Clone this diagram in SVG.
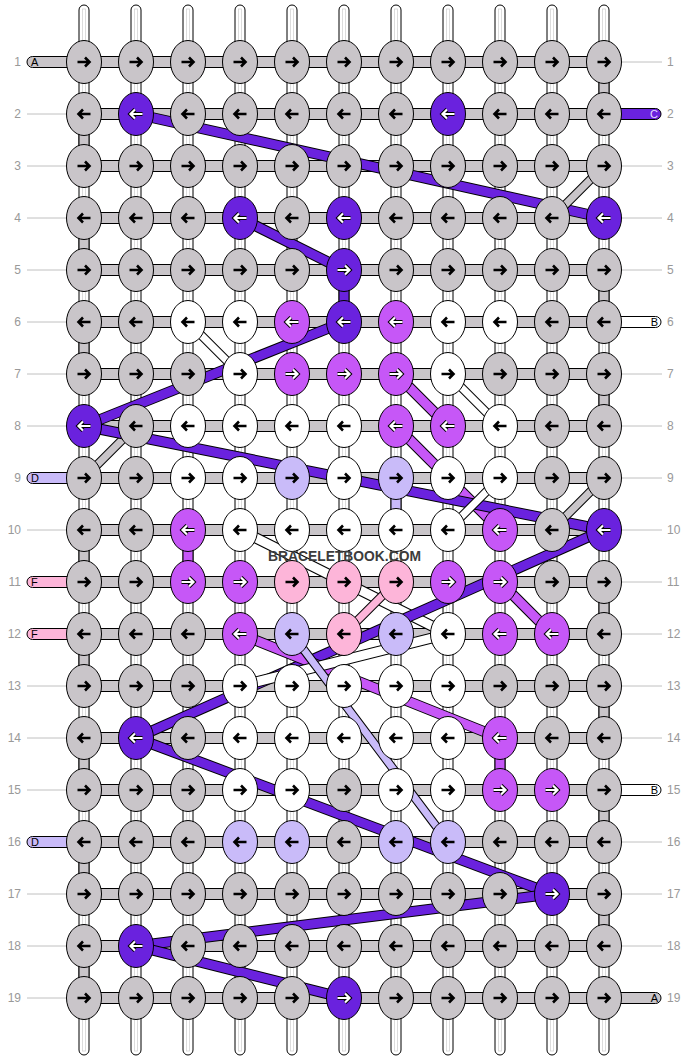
<svg xmlns="http://www.w3.org/2000/svg" xmlns:xlink="http://www.w3.org/1999/xlink" width="688" height="1060" viewBox="0 0 688 1060">
<style>
.g{fill:#c9c5c9}.P{fill:#6a22de}.m{fill:#c657f7}.k{fill:#fdb5d9}.l{fill:#c9bbf9}.w{fill:#fff}
ellipse{stroke:#000;stroke-width:1}
.strip{fill:#fff;stroke:#000;stroke-width:1}
.inner{fill:none;stroke:#d4d4d4;stroke-width:0.8}
.bar{stroke:#000;stroke-width:1}
.ln{stroke:#c0c0c0;stroke-width:1}
.num{font-family:"Liberation Sans",Arial,sans-serif;font-size:12px;fill:#999}
.lab{font-family:"Liberation Sans",Arial,sans-serif;font-size:11px}
.so{stroke:#000}
.ar{fill:none;stroke:#000;stroke-width:2.6}
.aw{fill:none;stroke:#fff;stroke-width:2.2}
.ao{fill:none;stroke:#000;stroke-width:4.2}
</style>
<defs>
<path id="R" d="M-6.5,0H5.5M1,-4.5L5.5,0L1,4.5"/>
<path id="L" d="M6.5,0H-5.5M-1,-4.5L-5.5,0L-1,4.5"/>
<g id="gR"><ellipse class="g" rx="17.5" ry="21.5"/><use href="#R" class="ar"/></g>
<g id="gL"><ellipse class="g" rx="17.5" ry="21.5"/><use href="#L" class="ar"/></g>
<g id="wR"><ellipse class="w" rx="17.5" ry="21.5"/><use href="#R" class="ar"/></g>
<g id="wL"><ellipse class="w" rx="17.5" ry="21.5"/><use href="#L" class="ar"/></g>
<g id="kR"><ellipse class="k" rx="17.5" ry="21.5"/><use href="#R" class="ar"/></g>
<g id="kL"><ellipse class="k" rx="17.5" ry="21.5"/><use href="#L" class="ar"/></g>
<g id="lR"><ellipse class="l" rx="17.5" ry="21.5"/><use href="#R" class="ar"/></g>
<g id="lL"><ellipse class="l" rx="17.5" ry="21.5"/><use href="#L" class="ar"/></g>
<g id="PR"><ellipse class="P" rx="17.5" ry="21.5"/><use href="#R" class="ao"/><use href="#R" class="aw"/></g>
<g id="PL"><ellipse class="P" rx="17.5" ry="21.5"/><use href="#L" class="ao"/><use href="#L" class="aw"/></g>
<g id="mR"><ellipse class="m" rx="17.5" ry="21.5"/><use href="#R" class="ao"/><use href="#R" class="aw"/></g>
<g id="mL"><ellipse class="m" rx="17.5" ry="21.5"/><use href="#L" class="ao"/><use href="#L" class="aw"/></g>
</defs>
<rect width="688" height="1060" fill="#fff"/>

<g id="strings">
<rect class="strip" x="79" y="5" width="10" height="1050" rx="5"/><rect class="inner" x="82.5" y="9" width="3" height="1042"/>
<rect class="strip" x="131" y="5" width="10" height="1050" rx="5"/><rect class="inner" x="134.5" y="9" width="3" height="1042"/>
<rect class="strip" x="183" y="5" width="10" height="1050" rx="5"/><rect class="inner" x="186.5" y="9" width="3" height="1042"/>
<rect class="strip" x="235" y="5" width="10" height="1050" rx="5"/><rect class="inner" x="238.5" y="9" width="3" height="1042"/>
<rect class="strip" x="287" y="5" width="10" height="1050" rx="5"/><rect class="inner" x="290.5" y="9" width="3" height="1042"/>
<rect class="strip" x="339" y="5" width="10" height="1050" rx="5"/><rect class="inner" x="342.5" y="9" width="3" height="1042"/>
<rect class="strip" x="391" y="5" width="10" height="1050" rx="5"/><rect class="inner" x="394.5" y="9" width="3" height="1042"/>
<rect class="strip" x="443" y="5" width="10" height="1050" rx="5"/><rect class="inner" x="446.5" y="9" width="3" height="1042"/>
<rect class="strip" x="495" y="5" width="10" height="1050" rx="5"/><rect class="inner" x="498.5" y="9" width="3" height="1042"/>
<rect class="strip" x="547" y="5" width="10" height="1050" rx="5"/><rect class="inner" x="550.5" y="9" width="3" height="1042"/>
<rect class="strip" x="599" y="5" width="10" height="1050" rx="5"/><rect class="inner" x="602.5" y="9" width="3" height="1042"/>
<rect class="g bar" x="599" y="80" width="10" height="16"/>
<rect class="g bar" x="599" y="288" width="10" height="16"/>
<rect class="g bar" x="599" y="392" width="10" height="16"/>
<rect class="g bar" x="599" y="600" width="10" height="16"/>
<rect class="g bar" x="599" y="704" width="10" height="16"/>
<rect class="g bar" x="599" y="808" width="10" height="16"/>
<rect class="g bar" x="599" y="912" width="10" height="16"/>
<rect class="g bar" x="79" y="132" width="10" height="16"/>
<rect class="g bar" x="79" y="236" width="10" height="16"/>
<rect class="g bar" x="79" y="340" width="10" height="16"/>
<rect class="g bar" x="79" y="548" width="10" height="16"/>
<rect class="g bar" x="79" y="652" width="10" height="16"/>
<rect class="g bar" x="79" y="756" width="10" height="16"/>
<rect class="g bar" x="79" y="860" width="10" height="16"/>
<rect class="g bar" x="79" y="964" width="10" height="16"/>
<rect class="P bar" x="339" y="288" width="10" height="16"/>
<rect class="l bar" x="391" y="496" width="10" height="16"/>
<rect class="m bar" x="183" y="548" width="10" height="16"/>
<rect class="m bar" x="495" y="756" width="10" height="16"/>
<rect class="g bar" x="84" y="56.5" width="520" height="11"/>
<rect class="g bar" x="84" y="108.5" width="520" height="11"/>
<rect class="g bar" x="84" y="160.5" width="520" height="11"/>
<rect class="g bar" x="84" y="212.5" width="520" height="11"/>
<rect class="g bar" x="84" y="264.5" width="520" height="11"/>
<rect class="g bar" x="84" y="316.5" width="520" height="11"/>
<rect class="g bar" x="84" y="368.5" width="520" height="11"/>
<rect class="g bar" x="84" y="420.5" width="520" height="11"/>
<rect class="g bar" x="84" y="472.5" width="520" height="11"/>
<rect class="g bar" x="84" y="524.5" width="520" height="11"/>
<rect class="g bar" x="84" y="576.5" width="520" height="11"/>
<rect class="g bar" x="84" y="628.5" width="520" height="11"/>
<rect class="g bar" x="84" y="680.5" width="520" height="11"/>
<rect class="g bar" x="84" y="732.5" width="520" height="11"/>
<rect class="g bar" x="84" y="784.5" width="520" height="11"/>
<rect class="g bar" x="84" y="836.5" width="520" height="11"/>
<rect class="g bar" x="84" y="888.5" width="520" height="11"/>
<rect class="g bar" x="84" y="940.5" width="520" height="11"/>
<rect class="g bar" x="84" y="992.5" width="520" height="11"/>
<rect class="g bar" x="27" y="56.5" width="60" height="11" rx="5.5"/>
<rect class="l bar" x="27" y="472.5" width="60" height="11" rx="5.5"/>
<rect class="k bar" x="27" y="576.5" width="60" height="11" rx="5.5"/>
<rect class="k bar" x="27" y="628.5" width="60" height="11" rx="5.5"/>
<rect class="l bar" x="27" y="836.5" width="60" height="11" rx="5.5"/>
<rect class="P bar" x="600" y="108.5" width="61" height="11" rx="5.5"/>
<rect class="w bar" x="600" y="316.5" width="61" height="11" rx="5.5"/>
<rect class="w bar" x="600" y="784.5" width="61" height="11" rx="5.5"/>
<rect class="g bar" x="600" y="992.5" width="61" height="11" rx="5.5"/>
</g>

<g id="connectors">
<line class="so" stroke-width="11" x1="136" y1="114" x2="604" y2="218"/><line stroke="#6a22de" stroke-width="9" x1="136" y1="114" x2="604" y2="218"/>
<line class="so" stroke-width="9" x1="604" y1="166" x2="552" y2="218"/><line stroke="#c9c5c9" stroke-width="7" x1="604" y1="166" x2="552" y2="218"/>
<line class="so" stroke-width="11" x1="240" y1="218" x2="344" y2="270"/><line stroke="#6a22de" stroke-width="9" x1="240" y1="218" x2="344" y2="270"/>
<line class="so" stroke-width="11" x1="344" y1="322" x2="84" y2="426"/><line stroke="#6a22de" stroke-width="9" x1="344" y1="322" x2="84" y2="426"/>
<line class="so" stroke-width="9" x1="188" y1="322" x2="240" y2="374"/><line stroke="#fff" stroke-width="7" x1="188" y1="322" x2="240" y2="374"/>
<line class="so" stroke-width="11" x1="396" y1="374" x2="448" y2="426"/><line stroke="#c657f7" stroke-width="9" x1="396" y1="374" x2="448" y2="426"/>
<line class="so" stroke-width="9" x1="448" y1="374" x2="500" y2="426"/><line stroke="#fff" stroke-width="7" x1="448" y1="374" x2="500" y2="426"/>
<line class="so" stroke-width="11" x1="396" y1="426" x2="500" y2="530"/><line stroke="#c657f7" stroke-width="9" x1="396" y1="426" x2="500" y2="530"/>
<line class="so" stroke-width="9" x1="136" y1="426" x2="84" y2="478"/><line stroke="#c9c5c9" stroke-width="7" x1="136" y1="426" x2="84" y2="478"/>
<line class="so" stroke-width="11" x1="84" y1="426" x2="604" y2="530"/><line stroke="#6a22de" stroke-width="9" x1="84" y1="426" x2="604" y2="530"/>
<line class="so" stroke-width="9" x1="604" y1="478" x2="552" y2="530"/><line stroke="#c9c5c9" stroke-width="7" x1="604" y1="478" x2="552" y2="530"/>
<line class="so" stroke-width="9" x1="500" y1="478" x2="448" y2="530"/><line stroke="#fff" stroke-width="7" x1="500" y1="478" x2="448" y2="530"/>
<line class="so" stroke-width="11" x1="240" y1="530" x2="448" y2="634"/><line stroke="#fff" stroke-width="9" x1="240" y1="530" x2="448" y2="634"/>
<line class="so" stroke-width="11" x1="500" y1="582" x2="552" y2="634"/><line stroke="#c657f7" stroke-width="9" x1="500" y1="582" x2="552" y2="634"/>
<line class="so" stroke-width="9" x1="396" y1="582" x2="344" y2="634"/><line stroke="#fdb5d9" stroke-width="7" x1="396" y1="582" x2="344" y2="634"/>
<line class="so" stroke-width="11" x1="604" y1="530" x2="136" y2="738"/><line stroke="#6a22de" stroke-width="9" x1="604" y1="530" x2="136" y2="738"/>
<line class="so" stroke-width="11" x1="240" y1="634" x2="500" y2="738"/><line stroke="#c657f7" stroke-width="9" x1="240" y1="634" x2="500" y2="738"/>
<line class="so" stroke-width="11" x1="240" y1="686" x2="448" y2="634"/><line stroke="#fff" stroke-width="9" x1="240" y1="686" x2="448" y2="634"/>
<line class="so" stroke-width="9" x1="292" y1="634" x2="448" y2="842"/><line stroke="#c9bbf9" stroke-width="7" x1="292" y1="634" x2="448" y2="842"/>
<line class="so" stroke-width="11" x1="136" y1="738" x2="552" y2="894"/><line stroke="#6a22de" stroke-width="9" x1="136" y1="738" x2="552" y2="894"/>
<line class="so" stroke-width="11" x1="552" y1="894" x2="136" y2="946"/><line stroke="#6a22de" stroke-width="9" x1="552" y1="894" x2="136" y2="946"/>
<line class="so" stroke-width="11" x1="136" y1="946" x2="344" y2="998"/><line stroke="#6a22de" stroke-width="9" x1="136" y1="946" x2="344" y2="998"/>
</g>

<g id="labels">
<line class="ln" x1="27" y1="114" x2="66" y2="114"/><line class="ln" x1="27" y1="166" x2="66" y2="166"/><line class="ln" x1="27" y1="218" x2="66" y2="218"/><line class="ln" x1="27" y1="270" x2="66" y2="270"/><line class="ln" x1="27" y1="322" x2="66" y2="322"/><line class="ln" x1="27" y1="374" x2="66" y2="374"/><line class="ln" x1="27" y1="426" x2="66" y2="426"/><line class="ln" x1="27" y1="530" x2="66" y2="530"/><line class="ln" x1="27" y1="686" x2="66" y2="686"/><line class="ln" x1="27" y1="738" x2="66" y2="738"/><line class="ln" x1="27" y1="790" x2="66" y2="790"/><line class="ln" x1="27" y1="894" x2="66" y2="894"/><line class="ln" x1="27" y1="946" x2="66" y2="946"/><line class="ln" x1="27" y1="998" x2="66" y2="998"/>
<line class="ln" x1="622" y1="62" x2="662" y2="62"/><line class="ln" x1="622" y1="166" x2="662" y2="166"/><line class="ln" x1="622" y1="218" x2="662" y2="218"/><line class="ln" x1="622" y1="270" x2="662" y2="270"/><line class="ln" x1="622" y1="374" x2="662" y2="374"/><line class="ln" x1="622" y1="426" x2="662" y2="426"/><line class="ln" x1="622" y1="478" x2="662" y2="478"/><line class="ln" x1="622" y1="530" x2="662" y2="530"/><line class="ln" x1="622" y1="582" x2="662" y2="582"/><line class="ln" x1="622" y1="634" x2="662" y2="634"/><line class="ln" x1="622" y1="686" x2="662" y2="686"/><line class="ln" x1="622" y1="738" x2="662" y2="738"/><line class="ln" x1="622" y1="842" x2="662" y2="842"/><line class="ln" x1="622" y1="894" x2="662" y2="894"/><line class="ln" x1="622" y1="946" x2="662" y2="946"/>
<text class="lab" x="31" y="66">A</text>
<text class="lab" x="31" y="482">D</text>
<text class="lab" x="31" y="586">F</text>
<text class="lab" x="31" y="638">F</text>
<text class="lab" x="31" y="846">D</text>
<text class="lab" x="658" y="118" text-anchor="end" fill="#e2dbff">C</text>
<text class="lab" x="658" y="326" text-anchor="end">B</text>
<text class="lab" x="658" y="794" text-anchor="end">B</text>
<text class="lab" x="658" y="1002" text-anchor="end">A</text>
<g class="num" text-anchor="end">
<text x="21" y="66">1</text><text x="21" y="118">2</text><text x="21" y="170">3</text><text x="21" y="222">4</text><text x="21" y="274">5</text><text x="21" y="326">6</text><text x="21" y="378">7</text><text x="21" y="430">8</text><text x="21" y="482">9</text><text x="21" y="534">10</text><text x="21" y="586">11</text><text x="21" y="638">12</text><text x="21" y="690">13</text><text x="21" y="742">14</text><text x="21" y="794">15</text><text x="21" y="846">16</text><text x="21" y="898">17</text><text x="21" y="950">18</text><text x="21" y="1002">19</text>
</g>
<g class="num">
<text x="667" y="66">1</text><text x="667" y="118">2</text><text x="667" y="170">3</text><text x="667" y="222">4</text><text x="667" y="274">5</text><text x="667" y="326">6</text><text x="667" y="378">7</text><text x="667" y="430">8</text><text x="667" y="482">9</text><text x="667" y="534">10</text><text x="667" y="586">11</text><text x="667" y="638">12</text><text x="667" y="690">13</text><text x="667" y="742">14</text><text x="667" y="794">15</text><text x="667" y="846">16</text><text x="667" y="898">17</text><text x="667" y="950">18</text><text x="667" y="1002">19</text>
</g>
</g>

<g id="nodes">
<g id="n1_1"><use href="#gR" x="84" y="62"/></g><g id="n1_2"><use href="#gR" x="136" y="62"/></g><g id="n1_3"><use href="#gR" x="188" y="62"/></g><g id="n1_4"><use href="#gR" x="240" y="62"/></g><g id="n1_5"><use href="#gR" x="292" y="62"/></g><g id="n1_6"><use href="#gR" x="344" y="62"/></g><g id="n1_7"><use href="#gR" x="396" y="62"/></g><g id="n1_8"><use href="#gR" x="448" y="62"/></g><g id="n1_9"><use href="#gR" x="500" y="62"/></g><g id="n1_10"><use href="#gR" x="552" y="62"/></g><g id="n1_11"><use href="#gR" x="604" y="62"/></g>
<g id="n2_1"><use href="#gL" x="84" y="114"/></g><g id="n2_2"><use href="#PL" x="136" y="114"/></g><g id="n2_3"><use href="#gL" x="188" y="114"/></g><g id="n2_4"><use href="#gL" x="240" y="114"/></g><g id="n2_5"><use href="#gL" x="292" y="114"/></g><g id="n2_6"><use href="#gL" x="344" y="114"/></g><g id="n2_7"><use href="#gL" x="396" y="114"/></g><g id="n2_8"><use href="#PL" x="448" y="114"/></g><g id="n2_9"><use href="#gL" x="500" y="114"/></g><g id="n2_10"><use href="#gL" x="552" y="114"/></g><g id="n2_11"><use href="#gL" x="604" y="114"/></g>
<g id="n3_1"><use href="#gR" x="84" y="166"/></g><g id="n3_2"><use href="#gR" x="136" y="166"/></g><g id="n3_3"><use href="#gR" x="188" y="166"/></g><g id="n3_4"><use href="#gR" x="240" y="166"/></g><g id="n3_5"><use href="#gR" x="292" y="166"/></g><g id="n3_6"><use href="#gR" x="344" y="166"/></g><g id="n3_7"><use href="#gR" x="396" y="166"/></g><g id="n3_8"><use href="#gR" x="448" y="166"/></g><g id="n3_9"><use href="#gR" x="500" y="166"/></g><g id="n3_10"><use href="#gR" x="552" y="166"/></g><g id="n3_11"><use href="#gR" x="604" y="166"/></g>
<g id="n4_1"><use href="#gL" x="84" y="218"/></g><g id="n4_2"><use href="#gL" x="136" y="218"/></g><g id="n4_3"><use href="#gL" x="188" y="218"/></g><g id="n4_4"><use href="#PL" x="240" y="218"/></g><g id="n4_5"><use href="#gL" x="292" y="218"/></g><g id="n4_6"><use href="#PL" x="344" y="218"/></g><g id="n4_7"><use href="#gL" x="396" y="218"/></g><g id="n4_8"><use href="#gL" x="448" y="218"/></g><g id="n4_9"><use href="#gL" x="500" y="218"/></g><g id="n4_10"><use href="#gL" x="552" y="218"/></g><g id="n4_11"><use href="#PL" x="604" y="218"/></g>
<g id="n5_1"><use href="#gR" x="84" y="270"/></g><g id="n5_2"><use href="#gR" x="136" y="270"/></g><g id="n5_3"><use href="#gR" x="188" y="270"/></g><g id="n5_4"><use href="#gR" x="240" y="270"/></g><g id="n5_5"><use href="#gR" x="292" y="270"/></g><g id="n5_6"><use href="#PR" x="344" y="270"/></g><g id="n5_7"><use href="#gR" x="396" y="270"/></g><g id="n5_8"><use href="#gR" x="448" y="270"/></g><g id="n5_9"><use href="#gR" x="500" y="270"/></g><g id="n5_10"><use href="#gR" x="552" y="270"/></g><g id="n5_11"><use href="#gR" x="604" y="270"/></g>
<g id="n6_1"><use href="#gL" x="84" y="322"/></g><g id="n6_2"><use href="#gL" x="136" y="322"/></g><g id="n6_3"><use href="#wL" x="188" y="322"/></g><g id="n6_4"><use href="#wL" x="240" y="322"/></g><g id="n6_5"><use href="#mL" x="292" y="322"/></g><g id="n6_6"><use href="#PL" x="344" y="322"/></g><g id="n6_7"><use href="#mL" x="396" y="322"/></g><g id="n6_8"><use href="#wL" x="448" y="322"/></g><g id="n6_9"><use href="#wL" x="500" y="322"/></g><g id="n6_10"><use href="#gL" x="552" y="322"/></g><g id="n6_11"><use href="#gL" x="604" y="322"/></g>
<g id="n7_1"><use href="#gR" x="84" y="374"/></g><g id="n7_2"><use href="#gR" x="136" y="374"/></g><g id="n7_3"><use href="#gR" x="188" y="374"/></g><g id="n7_4"><use href="#wR" x="240" y="374"/></g><g id="n7_5"><use href="#mR" x="292" y="374"/></g><g id="n7_6"><use href="#mR" x="344" y="374"/></g><g id="n7_7"><use href="#mR" x="396" y="374"/></g><g id="n7_8"><use href="#wR" x="448" y="374"/></g><g id="n7_9"><use href="#gR" x="500" y="374"/></g><g id="n7_10"><use href="#gR" x="552" y="374"/></g><g id="n7_11"><use href="#gR" x="604" y="374"/></g>
<g id="n8_1"><use href="#PL" x="84" y="426"/></g><g id="n8_2"><use href="#gL" x="136" y="426"/></g><g id="n8_3"><use href="#wL" x="188" y="426"/></g><g id="n8_4"><use href="#wL" x="240" y="426"/></g><g id="n8_5"><use href="#wL" x="292" y="426"/></g><g id="n8_6"><use href="#wL" x="344" y="426"/></g><g id="n8_7"><use href="#mL" x="396" y="426"/></g><g id="n8_8"><use href="#mL" x="448" y="426"/></g><g id="n8_9"><use href="#wL" x="500" y="426"/></g><g id="n8_10"><use href="#gL" x="552" y="426"/></g><g id="n8_11"><use href="#gL" x="604" y="426"/></g>
<g id="n9_1"><use href="#gR" x="84" y="478"/></g><g id="n9_2"><use href="#gR" x="136" y="478"/></g><g id="n9_3"><use href="#wR" x="188" y="478"/></g><g id="n9_4"><use href="#wR" x="240" y="478"/></g><g id="n9_5"><use href="#lR" x="292" y="478"/></g><g id="n9_6"><use href="#wR" x="344" y="478"/></g><g id="n9_7"><use href="#lR" x="396" y="478"/></g><g id="n9_8"><use href="#wR" x="448" y="478"/></g><g id="n9_9"><use href="#wR" x="500" y="478"/></g><g id="n9_10"><use href="#gR" x="552" y="478"/></g><g id="n9_11"><use href="#gR" x="604" y="478"/></g>
<g id="n10_1"><use href="#gL" x="84" y="530"/></g><g id="n10_2"><use href="#gL" x="136" y="530"/></g><g id="n10_3"><use href="#mL" x="188" y="530"/></g><g id="n10_4"><use href="#wL" x="240" y="530"/></g><g id="n10_5"><use href="#wL" x="292" y="530"/></g><g id="n10_6"><use href="#wL" x="344" y="530"/></g><g id="n10_7"><use href="#wL" x="396" y="530"/></g><g id="n10_8"><use href="#wL" x="448" y="530"/></g><g id="n10_9"><use href="#mL" x="500" y="530"/></g><g id="n10_10"><use href="#gL" x="552" y="530"/></g><g id="n10_11"><use href="#PL" x="604" y="530"/></g>
<g id="n11_1"><use href="#gR" x="84" y="582"/></g><g id="n11_2"><use href="#gR" x="136" y="582"/></g><g id="n11_3"><use href="#mR" x="188" y="582"/></g><g id="n11_4"><use href="#mR" x="240" y="582"/></g><g id="n11_5"><use href="#kR" x="292" y="582"/></g><g id="n11_6"><use href="#kR" x="344" y="582"/></g><g id="n11_7"><use href="#kR" x="396" y="582"/></g><g id="n11_8"><use href="#mR" x="448" y="582"/></g><g id="n11_9"><use href="#mR" x="500" y="582"/></g><g id="n11_10"><use href="#gR" x="552" y="582"/></g><g id="n11_11"><use href="#gR" x="604" y="582"/></g>
<g id="n12_1"><use href="#gL" x="84" y="634"/></g><g id="n12_2"><use href="#gL" x="136" y="634"/></g><g id="n12_3"><use href="#gL" x="188" y="634"/></g><g id="n12_4"><use href="#mL" x="240" y="634"/></g><g id="n12_5"><use href="#lL" x="292" y="634"/></g><g id="n12_6"><use href="#kL" x="344" y="634"/></g><g id="n12_7"><use href="#lL" x="396" y="634"/></g><g id="n12_8"><use href="#wL" x="448" y="634"/></g><g id="n12_9"><use href="#mL" x="500" y="634"/></g><g id="n12_10"><use href="#mL" x="552" y="634"/></g><g id="n12_11"><use href="#gL" x="604" y="634"/></g>
<g id="n13_1"><use href="#gR" x="84" y="686"/></g><g id="n13_2"><use href="#gR" x="136" y="686"/></g><g id="n13_3"><use href="#gR" x="188" y="686"/></g><g id="n13_4"><use href="#wR" x="240" y="686"/></g><g id="n13_5"><use href="#wR" x="292" y="686"/></g><g id="n13_6"><use href="#wR" x="344" y="686"/></g><g id="n13_7"><use href="#wR" x="396" y="686"/></g><g id="n13_8"><use href="#wR" x="448" y="686"/></g><g id="n13_9"><use href="#gR" x="500" y="686"/></g><g id="n13_10"><use href="#gR" x="552" y="686"/></g><g id="n13_11"><use href="#gR" x="604" y="686"/></g>
<g id="n14_1"><use href="#gL" x="84" y="738"/></g><g id="n14_2"><use href="#PL" x="136" y="738"/></g><g id="n14_3"><use href="#gL" x="188" y="738"/></g><g id="n14_4"><use href="#wL" x="240" y="738"/></g><g id="n14_5"><use href="#wL" x="292" y="738"/></g><g id="n14_6"><use href="#wL" x="344" y="738"/></g><g id="n14_7"><use href="#wL" x="396" y="738"/></g><g id="n14_8"><use href="#wL" x="448" y="738"/></g><g id="n14_9"><use href="#mL" x="500" y="738"/></g><g id="n14_10"><use href="#gL" x="552" y="738"/></g><g id="n14_11"><use href="#gL" x="604" y="738"/></g>
<g id="n15_1"><use href="#gR" x="84" y="790"/></g><g id="n15_2"><use href="#gR" x="136" y="790"/></g><g id="n15_3"><use href="#gR" x="188" y="790"/></g><g id="n15_4"><use href="#wR" x="240" y="790"/></g><g id="n15_5"><use href="#wR" x="292" y="790"/></g><g id="n15_6"><use href="#gR" x="344" y="790"/></g><g id="n15_7"><use href="#wR" x="396" y="790"/></g><g id="n15_8"><use href="#wR" x="448" y="790"/></g><g id="n15_9"><use href="#mR" x="500" y="790"/></g><g id="n15_10"><use href="#mR" x="552" y="790"/></g><g id="n15_11"><use href="#gR" x="604" y="790"/></g>
<g id="n16_1"><use href="#gL" x="84" y="842"/></g><g id="n16_2"><use href="#gL" x="136" y="842"/></g><g id="n16_3"><use href="#gL" x="188" y="842"/></g><g id="n16_4"><use href="#lL" x="240" y="842"/></g><g id="n16_5"><use href="#lL" x="292" y="842"/></g><g id="n16_6"><use href="#gL" x="344" y="842"/></g><g id="n16_7"><use href="#lL" x="396" y="842"/></g><g id="n16_8"><use href="#lL" x="448" y="842"/></g><g id="n16_9"><use href="#gL" x="500" y="842"/></g><g id="n16_10"><use href="#gL" x="552" y="842"/></g><g id="n16_11"><use href="#gL" x="604" y="842"/></g>
<g id="n17_1"><use href="#gR" x="84" y="894"/></g><g id="n17_2"><use href="#gR" x="136" y="894"/></g><g id="n17_3"><use href="#gR" x="188" y="894"/></g><g id="n17_4"><use href="#gR" x="240" y="894"/></g><g id="n17_5"><use href="#gR" x="292" y="894"/></g><g id="n17_6"><use href="#gR" x="344" y="894"/></g><g id="n17_7"><use href="#gR" x="396" y="894"/></g><g id="n17_8"><use href="#gR" x="448" y="894"/></g><g id="n17_9"><use href="#gR" x="500" y="894"/></g><g id="n17_10"><use href="#PR" x="552" y="894"/></g><g id="n17_11"><use href="#gR" x="604" y="894"/></g>
<g id="n18_1"><use href="#gL" x="84" y="946"/></g><g id="n18_2"><use href="#PL" x="136" y="946"/></g><g id="n18_3"><use href="#gL" x="188" y="946"/></g><g id="n18_4"><use href="#gL" x="240" y="946"/></g><g id="n18_5"><use href="#gL" x="292" y="946"/></g><g id="n18_6"><use href="#gL" x="344" y="946"/></g><g id="n18_7"><use href="#gL" x="396" y="946"/></g><g id="n18_8"><use href="#gL" x="448" y="946"/></g><g id="n18_9"><use href="#gL" x="500" y="946"/></g><g id="n18_10"><use href="#gL" x="552" y="946"/></g><g id="n18_11"><use href="#gL" x="604" y="946"/></g>
<g id="n19_1"><use href="#gR" x="84" y="998"/></g><g id="n19_2"><use href="#gR" x="136" y="998"/></g><g id="n19_3"><use href="#gR" x="188" y="998"/></g><g id="n19_4"><use href="#gR" x="240" y="998"/></g><g id="n19_5"><use href="#gR" x="292" y="998"/></g><g id="n19_6"><use href="#PR" x="344" y="998"/></g><g id="n19_7"><use href="#gR" x="396" y="998"/></g><g id="n19_8"><use href="#gR" x="448" y="998"/></g><g id="n19_9"><use href="#gR" x="500" y="998"/></g><g id="n19_10"><use href="#gR" x="552" y="998"/></g><g id="n19_11"><use href="#gR" x="604" y="998"/></g>
</g>
<text x="268" y="561" font-family="'Liberation Sans',Arial,sans-serif" font-size="15" font-weight="bold" fill="#3c3c3c" textLength="153" lengthAdjust="spacingAndGlyphs">BRACELETBOOK.COM</text>
</svg>
